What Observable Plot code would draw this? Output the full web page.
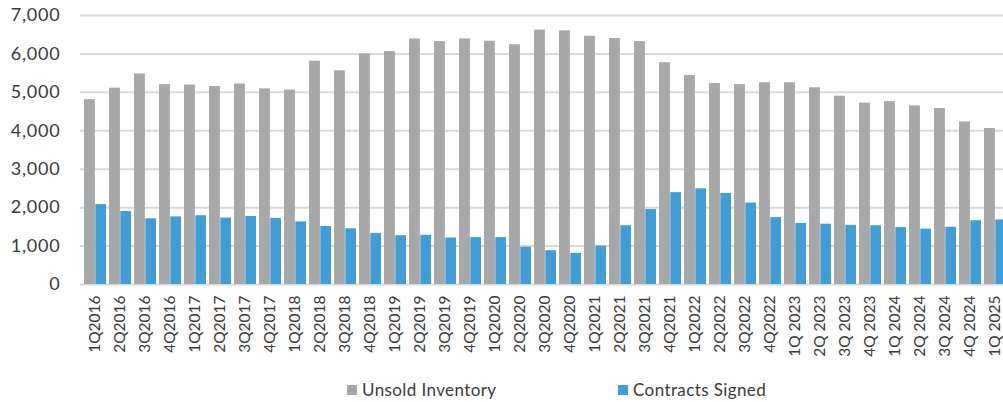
<!DOCTYPE html>
<html>
<head>
<meta charset="utf-8">
<script src="https://cdn.jsdelivr.net/npm/d3@7"></script>
<script src="https://cdn.jsdelivr.net/npm/@observablehq/plot@0.6"></script>
<style>
  html, body { margin: 0; padding: 0; background: #fff; overflow: hidden; }
  #wrap { position: relative; width: 1003px; height: 402px; }
  .leg { position: absolute; top: 379px; display: flex; align-items: center; font-family: Lato, sans-serif; font-size: 17px; color: #3a3a3a; letter-spacing: 0.4px; }
  .sw { width: 10px; height: 10px; margin-right: 5px; display: inline-block; }
</style>
</head>
<body>
<div id="wrap"></div>
<script>
const quarters = ["1Q2016","2Q2016","3Q2016","4Q2016","1Q2017","2Q2017","3Q2017","4Q2017","1Q2018","2Q2018","3Q2018","4Q2018","1Q2019","2Q2019","3Q2019","4Q2019","1Q2020","2Q2020","3Q2020","4Q2020","1Q2021","2Q2021","3Q2021","4Q2021","1Q2022","2Q2022","3Q2022","4Q2022","1Q 2023","2Q 2023","3Q 2023","4Q 2023","1Q 2024","2Q 2024","3Q 2024","4Q 2024","1Q 2025"];
const unsoldInventory = [4810,5110,5480,5200,5190,5150,5220,5090,5060,5810,5560,6000,6060,6390,6320,6390,6330,6240,6620,6600,6460,6400,6320,5770,5440,5230,5200,5250,5250,5120,4900,4720,4760,4650,4580,4230,4060];
const contractsSigned = [2080,1900,1710,1760,1790,1730,1770,1720,1630,1510,1450,1330,1270,1280,1210,1220,1220,970,880,810,1000,1530,1950,2390,2490,2370,2120,1740,1590,1570,1540,1530,1480,1440,1490,1660,1680];
const yTicks = [0,1000,2000,3000,4000,5000,6000,7000];
const seriesNames = ["Unsold Inventory", "Contracts Signed"];
const seriesColors = ["#a7a8aa", "#419dd5"];

const unsoldRows = quarters.map((q, i) => ({quarter: q, value: unsoldInventory[i]}));
const contractRows = quarters.map((q, i) => ({quarter: q, value: contractsSigned[i]}));

const chart = Plot.plot({
  width: 1003,
  height: 402,
  marginLeft: 80,
  marginRight: -7,
  marginTop: 15,
  marginBottom: 118,
  style: {fontFamily: "Lato, sans-serif", fontSize: "17px", color: "#3a3a3a", background: "#fff", overflow: "hidden", maxWidth: "none"},
  x: {domain: quarters, paddingInner: 0.12, paddingOuter: 0.08, label: null},
  y: {domain: [0, 7000], label: null},
  marks: [
    Plot.gridY(yTicks, {stroke: "#d9d9d9", strokeOpacity: 1, strokeWidth: 2}),
    Plot.barY(unsoldRows, {x: "quarter", y: "value", fill: seriesColors[0], insetRight: 11.1}),
    Plot.barY(contractRows, {x: "quarter", y: "value", fill: seriesColors[1], insetLeft: 11.3}),
    Plot.axisY(yTicks, {tickSize: 0, tickPadding: 20, tickFormat: d3.format(","), fontSize: 18, label: null}),
    Plot.axisX({tickRotate: -90, tickSize: 0, tickPadding: 11, fontSize: 15.5, label: null})
  ]
});

const wrap = document.getElementById("wrap");
wrap.appendChild(chart);
chart.querySelectorAll("g[aria-label='y-axis tick label'] text").forEach(t => t.setAttribute("letter-spacing", "0.8"));

const legendPos = [347, 618];
seriesNames.forEach((name, i) => {
  const d = document.createElement("div");
  d.className = "leg";
  d.style.left = legendPos[i] + "px";
  d.innerHTML = `<span class="sw" style="background:${seriesColors[i]}"></span><span>${name}</span>`;
  wrap.appendChild(d);
});
</script>
</body>
</html>
